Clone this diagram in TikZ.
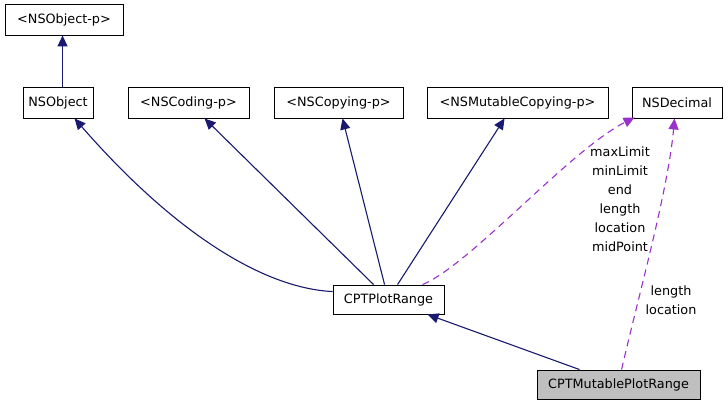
\documentclass[tikz,border=0pt]{standalone}
\usepackage{fontspec}
\setmainfont{DejaVu Sans}
\usetikzlibrary{arrows.meta}
\definecolor{edgeblue}{RGB}{25,25,112}
\definecolor{edgepurple}{RGB}{153,50,204}
\definecolor{boxgray}{RGB}{191,191,191}
\begin{document}
\begin{tikzpicture}[x=1pt,y=-1pt,
  cls/.style={draw=black, line width=0.9pt, fill=white, inner sep=0pt, minimum height=31pt,
              font=\fontsize{12.8}{15}\selectfont, anchor=center},
  inherit/.style={draw=edgeblue, line width=1.1pt, -{Triangle[length=11pt,width=10pt]}},
  usage/.style={draw=edgepurple, line width=1.1pt, dash pattern=on 7pt off 5pt,
              -{Triangle[length=11pt,width=10pt]}},
  lbl/.style={align=center, inner sep=0pt, font=\fontsize{12.8}{19}\selectfont}]
\useasboundingbox (0,0) rectangle (728,408);
\fill[white] (0,0) rectangle (728,408);

\node[cls, minimum width=118pt] (nsobjp) at (64,19.5) {<NSObject-p>};
\node[cls, minimum width=70pt] (nsobject) at (58,102.5) {NSObject};
\node[cls, minimum width=121pt] (nscoding) at (188.5,102.5) {<NSCoding-p>};
\node[cls, minimum width=129pt] (nscopying) at (338.5,102.5) {<NSCopying-p>};
\node[cls, minimum width=181pt] (nsmutcopy) at (517.5,102.5) {<NSMutableCopying-p>};
\node[cls, minimum width=90pt] (nsdecimal) at (677,102.5) {NSDecimal};
\node[cls, minimum width=111pt, minimum height=29pt] (cptplot) at (388.5,299.5) {CPTPlotRange};
\node[cls, minimum width=163pt, minimum height=29pt, fill=boxgray] (cptmut) at (618.5,384.5) {CPTMutablePlotRange};

% inheritance
\draw[inherit] ([xshift=40pt]nsobject.north west) -- ([xshift=58pt]nsobjp.south west);
\draw[inherit] ([yshift=-7pt]cptplot.north west) .. controls (260,288) and (170,228) .. ([xshift=52pt]nsobject.south west);
\draw[inherit] ([xshift=41pt]cptplot.north west) -- ([xshift=77pt]nscoding.south west);
\draw[inherit] ([xshift=52pt]cptplot.north west) -- ([xshift=69pt]nscopying.south west);
\draw[inherit] ([xshift=65pt]cptplot.north west) -- ([xshift=78pt]nsmutcopy.south west);
\draw[inherit] ([xshift=43pt]cptmut.north west) -- ([xshift=95pt]cptplot.south west);

% usage
\draw[usage] ([xshift=90pt]cptplot.north west) .. controls (470,265) and (570,150) .. ([xshift=3pt,yshift=1pt]nsdecimal.south west);
\draw[usage] ([xshift=85pt]cptmut.north west) .. controls (640,290) and (668,190) .. ([xshift=43pt]nsdecimal.south west);

\node[lbl] (lblplot) at (620,199.5) {maxLimit\\minLimit\\end\\length\\location\\midPoint};
\node[lbl] (lblmut) at (671,300) {length\\location};
\end{tikzpicture}
\end{document}
